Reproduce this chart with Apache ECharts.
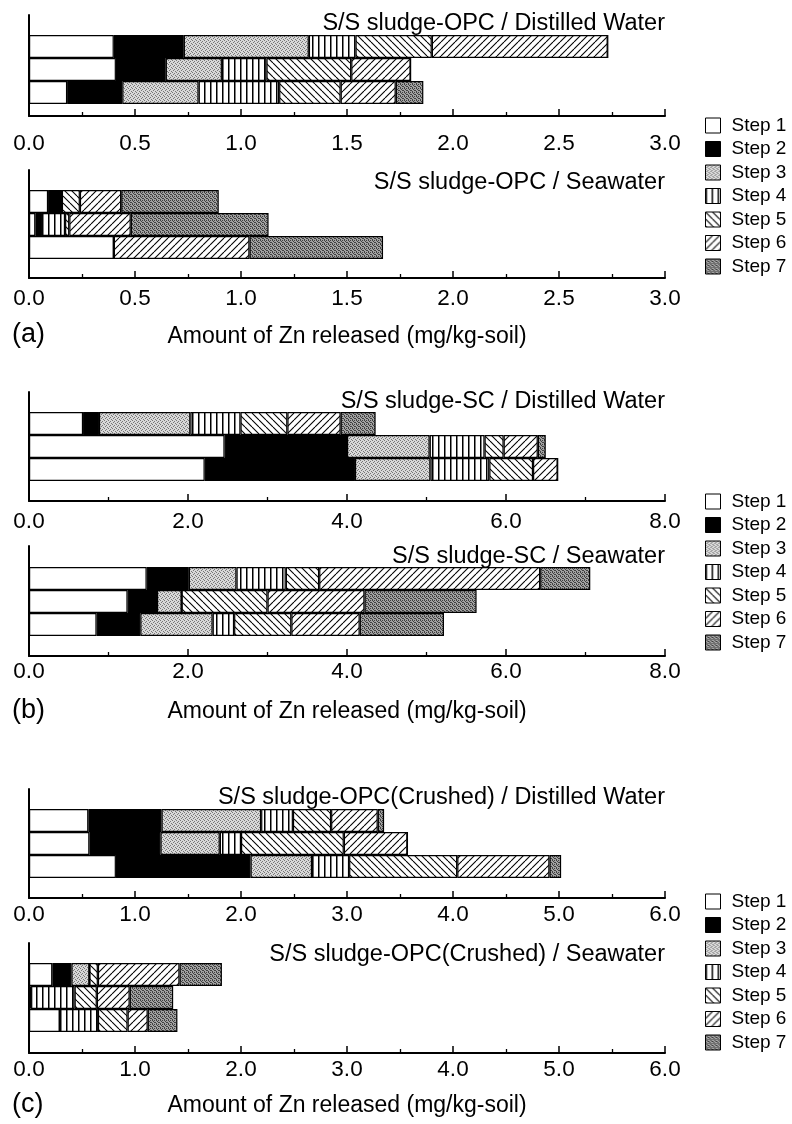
<!DOCTYPE html>
<html>
<head>
<meta charset="utf-8">
<script src="https://cdn.jsdelivr.net/npm/echarts@6/dist/echarts.min.js"></script>
<style>
  html, body { margin: 0; padding: 0; background: #fff; }
  #chart { width: 792px; height: 1124px; }
</style>
</head>
<body>
<div id="chart"></div>
<script>
// Sequential extraction steps and the three specimens (bars, top to bottom)
const stepNames = ['Step 1', 'Step 2', 'Step 3', 'Step 4', 'Step 5', 'Step 6', 'Step 7'];
const rowNames = ['Specimen 1', 'Specimen 2', 'Specimen 3'];

// Zn released per step (mg/kg-soil); each entry is [top bar, middle bar, bottom bar]
const opcDistilled = [
  [0.40, 0.41, 0.18],
  [0.33, 0.235, 0.26],
  [0.59, 0.265, 0.36],
  [0.22, 0.21, 0.38],
  [0.36, 0.40, 0.29],
  [0.83, 0.28, 0.26],
  [0, 0, 0.13]
];
const opcSeawater = [
  [0.09, 0.03, 0.40],
  [0.065, 0.03, 0],
  [0, 0, 0],
  [0, 0.11, 0],
  [0.085, 0.02, 0],
  [0.195, 0.29, 0.64],
  [0.46, 0.65, 0.63]
];
const scDistilled = [
  [0.68, 2.46, 2.21],
  [0.20, 1.54, 1.89],
  [1.15, 1.04, 0.95],
  [0.63, 0.69, 0.74],
  [0.59, 0.24, 0.55],
  [0.67, 0.43, 0.31],
  [0.44, 0.10, 0]
];
const scSeawater = [
  [1.48, 1.24, 0.85],
  [0.53, 0.37, 0.55],
  [0.60, 0.31, 0.91],
  [0.62, 0, 0.27],
  [0.42, 1.08, 0.72],
  [2.78, 1.22, 0.86],
  [0.63, 1.41, 1.06]
];
const crushedDistilled = [
  [0.56, 0.57, 0.82],
  [0.69, 0.67, 1.27],
  [0.94, 0.56, 0.58],
  [0.30, 0.20, 0.35],
  [0.36, 0.97, 1.02],
  [0.44, 0.60, 0.87],
  [0.06, 0, 0.11]
];
const crushedSeawater = [
  [0.22, 0.01, 0.29],
  [0.18, 0.01, 0],
  [0.17, 0, 0],
  [0, 0.41, 0.36],
  [0.08, 0.21, 0.28],
  [0.77, 0.31, 0.19],
  [0.40, 0.41, 0.28]
];

// Axis ranges for the three figure parts
const axisMaxA = 3.0, tickStepA = 0.5;
const axisMaxB = 8.0, tickStepB = 2.0;
const axisMaxC = 6.0, tickStepC = 1.0;

const axisName = 'Amount of Zn released (mg/kg-soil)';
const FONT = '"Liberation Sans", Arial, Helvetica, sans-serif';

// ---- fill patterns for the steps ----
function tile(w, h, draw) {
  const c = document.createElement('canvas');
  c.width = w; c.height = h;
  const g = c.getContext('2d');
  draw(g, w, h);
  return { image: c, repeat: 'repeat' };
}
function stipple(base, dot, cells) {
  return tile(4, 4, (g) => {
    g.fillStyle = base; g.fillRect(0, 0, 4, 4);
    g.fillStyle = dot;
    cells.forEach(([x, y]) => g.fillRect(x, y, 1, 1));
  });
}
function hatch(dir) {
  const s = 7;
  return tile(s, s, (g) => {
    g.fillStyle = '#fff'; g.fillRect(0, 0, s, s);
    g.strokeStyle = '#000'; g.lineWidth = 1.1;
    for (let k = -1; k <= 1; k++) {
      g.beginPath();
      if (dir > 0) { g.moveTo(k * s + s, 0); g.lineTo(k * s, s); }
      else { g.moveTo(k * s, 0); g.lineTo(k * s + s, s); }
      g.stroke();
    }
  });
}
const stepFills = [
  '#ffffff',
  '#000000',
  stipple('#d8d8d8', '#777777', [[0, 0], [2, 1], [1, 2], [3, 3]]),
  tile(6, 6, (g) => { g.fillStyle = '#fff'; g.fillRect(0, 0, 6, 6); g.fillStyle = '#000'; g.fillRect(0, 0, 1.5, 6); }),
  hatch(-1),
  hatch(1),
  stipple('#a2a2a2', '#404040', [[0, 0], [2, 0], [1, 1], [3, 2], [0, 3], [2, 2]])
];

// ---- sub-panel layout ----
const panels = [
  { title: 'S/S sludge-OPC / Distilled Water', data: opcDistilled, max: axisMaxA, step: tickStepA, frameTop: 15, barTop: 35, axisY: 116, titleY: 22, labelMargin: 16 },
  { title: 'S/S sludge-OPC / Seawater', data: opcSeawater, max: axisMaxA, step: tickStepA, frameTop: 170, barTop: 190, axisY: 278, titleY: 181, labelMargin: 9, nameGap: 47 },
  { title: 'S/S sludge-SC / Distilled Water', data: scDistilled, max: axisMaxB, step: tickStepB, frameTop: 392, barTop: 412, axisY: 501, titleY: 400, labelMargin: 9 },
  { title: 'S/S sludge-SC / Seawater', data: scSeawater, max: axisMaxB, step: tickStepB, frameTop: 546, barTop: 567, axisY: 656, titleY: 555, labelMargin: 4, nameGap: 44 },
  { title: 'S/S sludge-OPC(Crushed) / Distilled Water', data: crushedDistilled, max: axisMaxC, step: tickStepC, frameTop: 789, barTop: 809, axisY: 898, titleY: 796, labelMargin: 5 },
  { title: 'S/S sludge-OPC(Crushed) / Seawater', data: crushedSeawater, max: axisMaxC, step: tickStepC, frameTop: 943, barTop: 963, axisY: 1053, titleY: 953, labelMargin: 5, nameGap: 41 }
];
const partLabels = [
  { text: '(a)', y: 335 },
  { text: '(b)', y: 711 },
  { text: '(c)', y: 1105 }
];
const legendTops = [116, 492, 892];

const PLOT_LEFT = 29, PLOT_RIGHT = 127, BAR_H = 69;

const grid = [], xAxis = [], yAxis = [], series = [], title = [];

panels.forEach((p, i) => {
  // frame grid: carries the drawn axes
  grid.push({ left: PLOT_LEFT, right: PLOT_RIGHT, top: p.frameTop, height: p.axisY - p.frameTop, containLabel: false, outerBoundsMode: 'none' });
  // bar grid: carries the stacked bars
  grid.push({ left: PLOT_LEFT, right: PLOT_RIGHT, top: p.barTop, height: BAR_H, containLabel: false, outerBoundsMode: 'none' });

  const fx = {
    gridIndex: 2 * i, type: 'value', min: 0, max: p.max, interval: p.step,
    axisLine: { show: true, onZero: false, lineStyle: { color: '#000', width: 2 } },
    axisTick: { show: true, inside: true, length: 7, lineStyle: { color: '#000', width: 1.5 } },
    minorTick: { show: true, splitNumber: 2, length: 4, lineStyle: { color: '#000', width: 1.3 } },
    splitLine: { show: false }, minorSplitLine: { show: false },
    axisLabel: { formatter: (v) => v.toFixed(1), fontSize: 22.5, color: '#000', fontFamily: FONT, margin: p.labelMargin }
  };
  if (p.nameGap) {
    fx.name = axisName;
    fx.nameLocation = 'middle';
    fx.nameGap = p.nameGap;
    fx.nameTextStyle = { fontSize: 23, color: '#000', fontFamily: FONT };
  }
  xAxis.push(fx);
  yAxis.push({
    gridIndex: 2 * i, type: 'value', min: 0, max: 1,
    axisLine: { show: true, lineStyle: { color: '#000', width: 2 } },
    axisTick: { show: false }, axisLabel: { show: false }, splitLine: { show: false }
  });
  xAxis.push({ gridIndex: 2 * i + 1, type: 'value', min: 0, max: p.max, show: false });
  yAxis.push({ gridIndex: 2 * i + 1, type: 'category', data: rowNames, inverse: true, show: false });

  stepNames.forEach((name, s) => {
    series.push({
      type: 'bar', name: name, stack: 'panel' + i,
      xAxisIndex: 2 * i + 1, yAxisIndex: 2 * i + 1,
      barWidth: '100%', silent: true,
      data: p.data[s],
      itemStyle: { color: stepFills[s], borderColor: '#000', borderWidth: 1.2 }
    });
  });

  title.push({
    text: p.title, right: PLOT_RIGHT, top: p.titleY - 10, padding: 0,
    textStyle: { fontSize: 23.5, fontWeight: 'normal', color: '#000', fontFamily: FONT }
  });
});

partLabels.forEach((l) => {
  title.push({ text: l.text, left: 12, top: l.y - 14, padding: 0,
    textStyle: { fontSize: 27, fontWeight: 'normal', color: '#000', fontFamily: FONT } });
});

const legend = legendTops.map((t) => ({
  data: stepNames, orient: 'vertical', left: 705, top: t,
  itemWidth: 15, itemHeight: 15, itemGap: 4.5, selectedMode: false,
  icon: 'rect', padding: 0,
  itemStyle: { borderColor: '#000', borderWidth: 1 },
  textStyle: { fontSize: 19, color: '#000', fontFamily: FONT, padding: [0, 0, 0, 6] }
}));

const chart = echarts.init(document.getElementById('chart'), null, { renderer: 'canvas' });
chart.setOption({
  animation: false,
  backgroundColor: '#fff',
  title, legend, grid, xAxis, yAxis, series
});
</script>
</body>
</html>
